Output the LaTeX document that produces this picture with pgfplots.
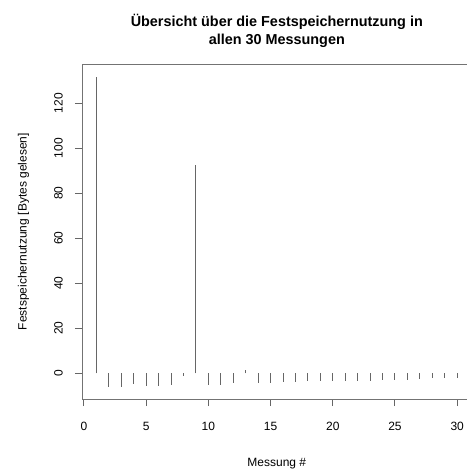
\documentclass[border=0pt]{standalone}
\usepackage{pgfplots}
\pgfplotsset{compat=1.18}
\usepackage{fontspec}
\setmainfont{Liberation Sans}
\begin{document}
\begin{tikzpicture}
\begin{axis}[
  at={(0,0)}, anchor=south west,
  scale only axis,
  width=389.6bp, height=334.7bp,
  xmin=-0.16, xmax=31.16, ymin=-11.42, ymax=137.3,
  xtick={0,5,...,30}, ytick={0,20,...,120},
  xtick pos=bottom, ytick pos=left,
  tick align=outside, major tick length=7bp,
  tick style={black!60, line width=1bp},
  axis line style={black!55, line width=1bp},
  /pgf/number format/assume math mode=true,
  ticklabel style={font=\fontsize{12bp}{14bp}\selectfont},
  yticklabel style={rotate=90, anchor=base, inner sep=0pt, yshift=12.3bp},
  xticklabel style={anchor=base, inner sep=0pt, yshift=-24bp},
  clip=false,
]
\addplot[ycomb, black!60, line width=1bp] coordinates {
(1,131.8) (2,-5.9) (3,-5.9) (4,-4.7) (5,-5.6) (6,-5.5) (7,-5.2) (8,-1.0)
(9,92.6) (10,-5.2) (11,-5.2) (12,-4.4) (13,1.3) (14,-4.1) (15,-4.1)
(16,-3.9) (17,-3.7) (18,-3.6) (19,-3.3) (20,-3.3) (21,-3.3) (22,-3.2)
(23,-3.3) (24,-3.0) (25,-3.0) (26,-3.0) (27,-2.6) (28,-2.3) (29,-2.3) (30,-2.3)
};
\end{axis}
\node[anchor=base, font=\fontsize{14.4bp}{17bp}\selectfont\bfseries] at (194.8bp,372.3bp) {Übersicht über die Festspeichernutzung in};
\node[anchor=base, font=\fontsize{14.4bp}{17bp}\selectfont\bfseries] at (194.8bp,354.7bp) {allen 30 Messungen};
\node[anchor=base, font=\fontsize{12bp}{14bp}\selectfont] at (194.8bp,-67bp) {Messung \#};
\node[anchor=base, rotate=90, font=\fontsize{12bp}{14bp}\selectfont] at (-55.3bp,167.35bp) {Festspeichernutzung [Bytes gelesen]};
\pgfresetboundingbox
\path (-82bp,-75bp) rectangle (385bp,399bp);
\end{tikzpicture}
\end{document}
